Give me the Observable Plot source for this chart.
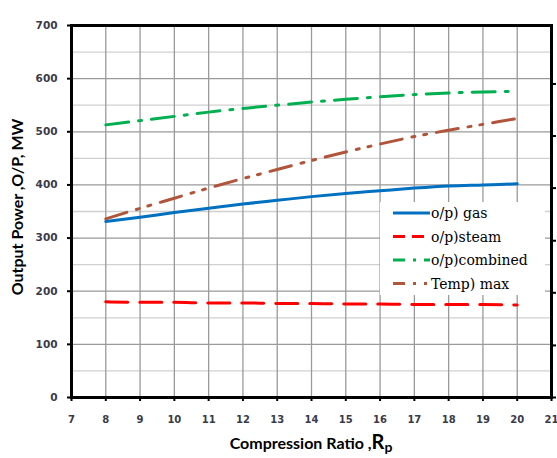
<!DOCTYPE html>
<html>
<head>
<meta charset="utf-8">
<script src="https://cdn.jsdelivr.net/npm/d3@7"></script>
<script src="https://cdn.jsdelivr.net/npm/@observablehq/plot@0.6"></script>
<style>
  html, body { margin: 0; padding: 0; background: #fff; }
  #chart { width: 557px; height: 458px; }
  .legend-text { font-family: "DejaVu Serif", "Liberation Serif", serif !important; font-weight: normal !important; }
</style>
</head>
<body>
<div id="chart"></div>
<script>
// ---- data ----
const ratio = [8, 9, 10, 11, 12, 13, 14, 15, 16, 17, 18, 19, 20];
const gas = [331, 339, 348, 356, 364, 371, 378, 384, 389, 394, 398, 400, 402];
const steam = [180, 179, 179, 178, 178, 177, 177, 176, 176, 175, 175, 175, 174];
const combined = [513, 521, 529, 537, 544, 550, 556, 561, 566, 570, 573, 575, 576];
const tempMax = [336, 356, 375, 394, 412, 429, 446, 462, 477, 491, 503, 514, 525];

const seriesNames = ["o/p) gas", "o/p)steam", "o/p)combined", "Temp) max"];
const seriesColors = ["#0070C0", "#FF0000", "#00B050", "#B0553A"];
const seriesDash = [null, "22,12", "23,10,3,10", "22,10,3,9,3,10"];
const legendDash = [null, "12,7", "12,8,3,8,6", "12,8,3,8,3"];
const seriesValues = [gas, steam, combined, tempMax];

const xTicks = [7, 8, 9, 10, 11, 12, 13, 14, 15, 16, 17, 18, 19, 20, 21];
const xGrid = [8, 9, 10, 11, 12, 13, 14, 15, 16, 17, 18, 19, 20];
const yTicks = [0, 100, 200, 300, 400, 500, 600, 700];
const yMinor = [50, 150, 250, 350, 450, 550, 650];
const rightTicks = [0, 98, 197, 295, 394, 492, 590];

const xTitle = "Compression Ratio ,R";
const xTitleSub = "p";
const yTitle = "Output Power ,O/P, MW";

// ---- build ----
const rows = [];
seriesNames.forEach((name, s) => {
  ratio.forEach((r, i) => rows.push({series: name, s, x: r, y: seriesValues[s][i]}));
});

const tickFont = "DejaVu Sans, sans-serif";

const plot = Plot.plot({
  width: 557,
  height: 458,
  marginLeft: 71,
  marginRight: 6,
  marginTop: 25,
  marginBottom: 61,
  style: {fontFamily: tickFont, fontSize: "10.5px", fontWeight: "bold", color: "#3a3a4a", background: "#fff", overflow: "visible"},
  x: {domain: [7, 21]},
  y: {domain: [0, 700]},
  marks: [
    Plot.gridY(yMinor, {stroke: "#d0d0d0", strokeOpacity: 1, strokeWidth: 1.3}),
    Plot.gridY(yTicks, {stroke: "#9a9a9a", strokeOpacity: 1, strokeWidth: 1.3}),
    Plot.gridX(xGrid, {stroke: "#9a9a9a", strokeOpacity: 1, strokeWidth: 1.3}),
    ...seriesNames.map((name, s) =>
      Plot.line(rows.filter(d => d.s === s), {
        x: "x", y: "y",
        stroke: seriesColors[s],
        strokeWidth: 3,
        strokeDasharray: seriesDash[s] || undefined,
        curve: "monotone-x"
      })
    ),
    Plot.frame({stroke: "#000", strokeWidth: 3}),
    Plot.axisY(yTicks, {anchor: "left", tickSize: 4, tickPadding: 10, label: null, stroke: "#000", strokeWidth: 2, fill: "#3a3a4a"}),
    Plot.axisX(xTicks, {anchor: "bottom", tickSize: 4, tickPadding: 14, label: null, stroke: "#000", strokeWidth: 2, fill: "#3a3a4a", fontSize: 10, tickFormat: d => String(d)}),
    Plot.axisY(rightTicks, {anchor: "right", tickSize: 4, tickFormat: () => "", label: null, stroke: "#000", strokeWidth: 2})
  ]
});

document.getElementById("chart").appendChild(plot);

const svg = d3.select(plot);
const xs = plot.scale("x"), ys = plot.scale("y");
const cx = (xs.range[0] + xs.range[1]) / 2;
const cy = (ys.range[0] + ys.range[1]) / 2;

// ---- y title ----
svg.append("text")
  .attr("transform", `translate(23,${cy - 4}) rotate(-90)`)
  .attr("text-anchor", "middle")
  .style("font-family", "Lato, sans-serif")
  .style("font-weight", "bold")
  .style("font-size", "16px")
  .attr("fill", "#000")
  .text(yTitle);

// ---- x title with subscript ----
const t = svg.append("text")
  .attr("x", cx).attr("y", 449)
  .attr("text-anchor", "middle")
  .style("font-family", "Lato, sans-serif")
  .style("font-weight", "bold")
  .style("font-size", "16px")
  .attr("fill", "#000");
t.append("tspan").text(xTitle.slice(0, -1));
t.append("tspan").text(xTitle.slice(-1)).style("font-size", "20px");
t.append("tspan").text(xTitleSub).attr("dy", "3").style("font-size", "14px");

// ---- legend ----
const lx = 380, ly = 202, lw = 165, lh = 93;
const lg = svg.append("g");
lg.append("rect").attr("x", lx).attr("y", ly).attr("width", lw).attr("height", lh).attr("fill", "#fff");
seriesNames.forEach((name, s) => {
  const yy = ly + 11 + s * 23.5;
  lg.append("line")
    .attr("x1", lx + 13).attr("x2", lx + 50)
    .attr("y1", yy).attr("y2", yy)
    .attr("stroke", seriesColors[s])
    .attr("stroke-width", 3)
    .attr("stroke-dasharray", legendDash[s]);
  lg.append("text")
    .attr("class", "legend-text")
    .attr("x", lx + 51).attr("y", yy + 5)
    .attr("text-anchor", "start")
    .attr("font-size", 14)
    .style("font-size", "14px")
    .text(name)
    .attr("fill", "#000");
});
</script>
</body>
</html>
